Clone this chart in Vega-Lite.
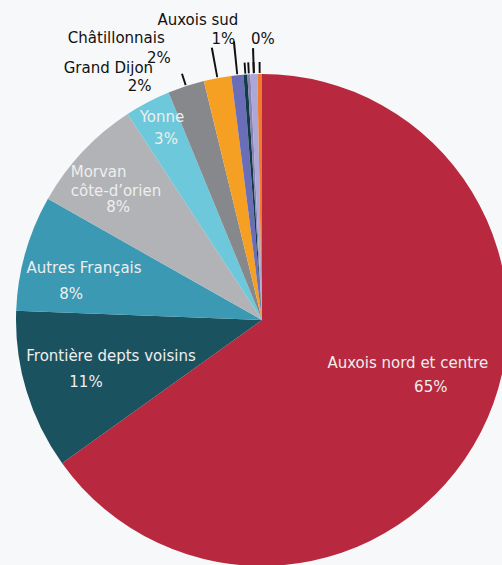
{
  "$schema": "https://vega.github.io/schema/vega-lite/v6.json",
  "width": 480,
  "height": 490,
  "autosize": {"type": "none"},
  "padding": {"left": 22, "top": 75, "right": 0, "bottom": 0},
  "background": "#f7f8fa",
  "view": {"stroke": null},
  "config": {"text": {"font": "DejaVu Sans", "fontSize": 15, "baseline": "middle"}},
  "data": {"values": [
    {"idx": 1, "name": "Auxois nord et centre", "value": 65.1},
    {"idx": 2, "name": "Frontière depts voisins", "value": 10.5},
    {"idx": 3, "name": "Autres Français", "value": 7.6},
    {"idx": 4, "name": "Morvan côte-d’orien", "value": 7.6},
    {"idx": 5, "name": "Yonne", "value": 3.0},
    {"idx": 6, "name": "Grand Dijon", "value": 2.4},
    {"idx": 7, "name": "Châtillonnais", "value": 1.8},
    {"idx": 8, "name": "Auxois sud", "value": 0.8},
    {"idx": 9, "name": "Autre (a)", "value": 0.25},
    {"idx": 10, "name": "Autre (b)", "value": 0.2},
    {"idx": 11, "name": "Autre (c)", "value": 0.45},
    {"idx": 12, "name": "Autre (d)", "value": 0.3}
  ]},
  "transform": [
    {"calculate": "format(datum.value, '.0f') + '%'", "as": "pct"},
    {"window": [{"op": "sum", "field": "value", "as": "cum"}], "sort": [{"field": "idx", "order": "ascending"}], "frame": [null, 0]},
    {"calculate": "datum.cum - datum.value / 2 - 0.06", "as": "a1"},
    {"calculate": "datum.cum - datum.value / 2 + 0.06", "as": "a2"}
  ],
  "layer": [
    {
      "mark": {"type": "arc", "radius": 246},
      "encoding": {
        "theta": {"field": "value", "type": "quantitative", "stack": true, "scale": {"domain": [0, 100]}},
        "order": {"field": "idx", "type": "quantitative"},
        "color": {"field": "name", "type": "nominal", "legend": null,
          "scale": {"domain": ["Auxois nord et centre", "Frontière depts voisins", "Autres Français", "Morvan côte-d’orien", "Yonne", "Grand Dijon", "Châtillonnais", "Auxois sud", "Autre (a)", "Autre (b)", "Autre (c)", "Autre (d)"],
                    "range": ["#b8283f", "#1b5260", "#3b99b3", "#b2b3b6", "#6cc8da", "#87888c", "#f5a023", "#6a6db8", "#143c46", "#8a82b3", "#aba7d9", "#f07b2b"]}}
      }
    },
    {
      "transform": [{"filter": "datum.name === 'Grand Dijon'"}],
      "mark": {"type": "arc", "radius": 259, "radius2": 247, "color": "#111111"},
      "encoding": {"theta": {"field": "a1", "type": "quantitative", "stack": null, "scale": {"domain": [0, 100]}}, "theta2": {"field": "a2"}}
    },
    {
      "transform": [{"filter": "datum.name === 'Châtillonnais'"}],
      "mark": {"type": "arc", "radius": 277, "radius2": 247, "color": "#111111"},
      "encoding": {"theta": {"field": "a1", "type": "quantitative", "stack": null, "scale": {"domain": [0, 100]}}, "theta2": {"field": "a2"}}
    },
    {
      "transform": [{"filter": "datum.name === 'Auxois sud'"}],
      "mark": {"type": "arc", "radius": 280, "radius2": 247, "color": "#111111"},
      "encoding": {"theta": {"field": "a1", "type": "quantitative", "stack": null, "scale": {"domain": [0, 100]}}, "theta2": {"field": "a2"}}
    },
    {
      "transform": [{"filter": "datum.idx >= 9"}],
      "mark": {"type": "arc", "radius": 258, "radius2": 247, "color": "#111111"},
      "encoding": {"theta": {"field": "a1", "type": "quantitative", "stack": null, "scale": {"domain": [0, 100]}}, "theta2": {"field": "a2"}}
    },
    {
      "transform": [{"filter": "datum.idx === 11"}],
      "mark": {"type": "arc", "radius": 272, "radius2": 247, "color": "#111111"},
      "encoding": {"theta": {"field": "a1", "type": "quantitative", "stack": null, "scale": {"domain": [0, 100]}}, "theta2": {"field": "a2"}}
    },
    {
      "mark": {"type": "text", "radius": 165, "dx": -1, "dy": -32, "color": "#eeeeee"},
      "encoding": {
        "theta": {"field": "value", "type": "quantitative", "stack": true, "scale": {"domain": [0, 100]}},
        "order": {"field": "idx", "type": "quantitative"}, "detail": {"field": "name"},
        "text": {"condition": {"test": "datum.idx === 1", "field": "name", "type": "nominal"}, "value": ""}
      }
    },
    {
      "mark": {"type": "text", "radius": 165, "dx": 22, "dy": -8, "color": "#eeeeee"},
      "encoding": {
        "theta": {"field": "value", "type": "quantitative", "stack": true, "scale": {"domain": [0, 100]}},
        "order": {"field": "idx", "type": "quantitative"}, "detail": {"field": "name"},
        "text": {"condition": {"test": "datum.idx === 1", "field": "pct", "type": "nominal"}, "value": ""}
      }
    },
    {
      "mark": {"type": "text", "radius": 165, "dx": 7, "dy": -11.5, "color": "#eeeeee"},
      "encoding": {
        "theta": {"field": "value", "type": "quantitative", "stack": true, "scale": {"domain": [0, 100]}},
        "order": {"field": "idx", "type": "quantitative"}, "detail": {"field": "name"},
        "text": {"condition": {"test": "datum.idx === 2", "field": "name", "type": "nominal"}, "value": ""}
      }
    },
    {
      "mark": {"type": "text", "radius": 165, "dx": -18, "dy": 14.5, "color": "#eeeeee"},
      "encoding": {
        "theta": {"field": "value", "type": "quantitative", "stack": true, "scale": {"domain": [0, 100]}},
        "order": {"field": "idx", "type": "quantitative"}, "detail": {"field": "name"},
        "text": {"condition": {"test": "datum.idx === 2", "field": "pct", "type": "nominal"}, "value": ""}
      }
    },
    {
      "mark": {"type": "text", "radius": 185, "dx": 0, "dy": -1.5, "color": "#eeeeee"},
      "encoding": {
        "theta": {"field": "value", "type": "quantitative", "stack": true, "scale": {"domain": [0, 100]}},
        "order": {"field": "idx", "type": "quantitative"}, "detail": {"field": "name"},
        "text": {"condition": {"test": "datum.idx === 3", "field": "name", "type": "nominal"}, "value": ""}
      }
    },
    {
      "mark": {"type": "text", "radius": 185, "dx": -13, "dy": 24.5, "color": "#eeeeee"},
      "encoding": {
        "theta": {"field": "value", "type": "quantitative", "stack": true, "scale": {"domain": [0, 100]}},
        "order": {"field": "idx", "type": "quantitative"}, "detail": {"field": "name"},
        "text": {"condition": {"test": "datum.idx === 3", "field": "pct", "type": "nominal"}, "value": ""}
      }
    },
    {
      "mark": {"type": "text", "radius": 200, "dx": -45.5, "dy": -11.5, "align": "left", "lineBreak": " ", "lineHeight": 19.5, "color": "#eeeeee"},
      "encoding": {
        "theta": {"field": "value", "type": "quantitative", "stack": true, "scale": {"domain": [0, 100]}},
        "order": {"field": "idx", "type": "quantitative"}, "detail": {"field": "name"},
        "text": {"condition": {"test": "datum.idx === 4", "field": "name", "type": "nominal"}, "value": ""}
      }
    },
    {
      "mark": {"type": "text", "radius": 200, "dx": 2, "dy": 24, "color": "#eeeeee"},
      "encoding": {
        "theta": {"field": "value", "type": "quantitative", "stack": true, "scale": {"domain": [0, 100]}},
        "order": {"field": "idx", "type": "quantitative"}, "detail": {"field": "name"},
        "text": {"condition": {"test": "datum.idx === 4", "field": "pct", "type": "nominal"}, "value": ""}
      }
    },
    {
      "mark": {"type": "text", "radius": 215, "dx": 0, "dy": -13, "color": "#eeeeee"},
      "encoding": {
        "theta": {"field": "value", "type": "quantitative", "stack": true, "scale": {"domain": [0, 100]}},
        "order": {"field": "idx", "type": "quantitative"}, "detail": {"field": "name"},
        "text": {"condition": {"test": "datum.idx === 5", "field": "name", "type": "nominal"}, "value": ""}
      }
    },
    {
      "mark": {"type": "text", "radius": 215, "dx": 4, "dy": 9, "color": "#eeeeee"},
      "encoding": {
        "theta": {"field": "value", "type": "quantitative", "stack": true, "scale": {"domain": [0, 100]}},
        "order": {"field": "idx", "type": "quantitative"}, "detail": {"field": "name"},
        "text": {"condition": {"test": "datum.idx === 5", "field": "pct", "type": "nominal"}, "value": ""}
      }
    },
    {
      "mark": {"type": "text", "radius": 265, "dx": -27, "dy": 0.5, "align": "right", "color": "#111111"},
      "encoding": {
        "theta": {"field": "value", "type": "quantitative", "stack": true, "scale": {"domain": [0, 100]}},
        "order": {"field": "idx", "type": "quantitative"}, "detail": {"field": "name"},
        "text": {"condition": {"test": "datum.idx === 6", "field": "name", "type": "nominal"}, "value": ""}
      }
    },
    {
      "mark": {"type": "text", "radius": 265, "dx": -28.5, "dy": 18.5, "align": "right", "color": "#111111"},
      "encoding": {
        "theta": {"field": "value", "type": "quantitative", "stack": true, "scale": {"domain": [0, 100]}},
        "order": {"field": "idx", "type": "quantitative"}, "detail": {"field": "name"},
        "text": {"condition": {"test": "datum.idx === 6", "field": "pct", "type": "nominal"}, "value": ""}
      }
    },
    {
      "mark": {"type": "text", "radius": 285, "dx": -45.6, "dy": -1.5, "align": "right", "color": "#111111"},
      "encoding": {
        "theta": {"field": "value", "type": "quantitative", "stack": true, "scale": {"domain": [0, 100]}},
        "order": {"field": "idx", "type": "quantitative"}, "detail": {"field": "name"},
        "text": {"condition": {"test": "datum.idx === 7", "field": "name", "type": "nominal"}, "value": ""}
      }
    },
    {
      "mark": {"type": "text", "radius": 285, "dx": -39.6, "dy": 18, "align": "right", "color": "#111111"},
      "encoding": {
        "theta": {"field": "value", "type": "quantitative", "stack": true, "scale": {"domain": [0, 100]}},
        "order": {"field": "idx", "type": "quantitative"}, "detail": {"field": "name"},
        "text": {"condition": {"test": "datum.idx === 7", "field": "pct", "type": "nominal"}, "value": ""}
      }
    },
    {
      "mark": {"type": "text", "radius": 290, "dx": -35, "dy": -11, "color": "#111111"},
      "encoding": {
        "theta": {"field": "value", "type": "quantitative", "stack": true, "scale": {"domain": [0, 100]}},
        "order": {"field": "idx", "type": "quantitative"}, "detail": {"field": "name"},
        "text": {"condition": {"test": "datum.idx === 8", "field": "name", "type": "nominal"}, "value": ""}
      }
    },
    {
      "mark": {"type": "text", "radius": 290, "dx": -9.6, "dy": 7.4, "color": "#111111"},
      "encoding": {
        "theta": {"field": "value", "type": "quantitative", "stack": true, "scale": {"domain": [0, 100]}},
        "order": {"field": "idx", "type": "quantitative"}, "detail": {"field": "name"},
        "text": {"condition": {"test": "datum.idx === 8", "field": "pct", "type": "nominal"}, "value": ""}
      }
    },
    {
      "mark": {"type": "text", "radius": 285, "dx": 10.3, "dy": 3.8, "color": "#111111"},
      "encoding": {
        "theta": {"field": "value", "type": "quantitative", "stack": true, "scale": {"domain": [0, 100]}},
        "order": {"field": "idx", "type": "quantitative"}, "detail": {"field": "name"},
        "text": {"condition": {"test": "datum.idx === 11", "field": "pct", "type": "nominal"}, "value": ""}
      }
    }
  ]
}
